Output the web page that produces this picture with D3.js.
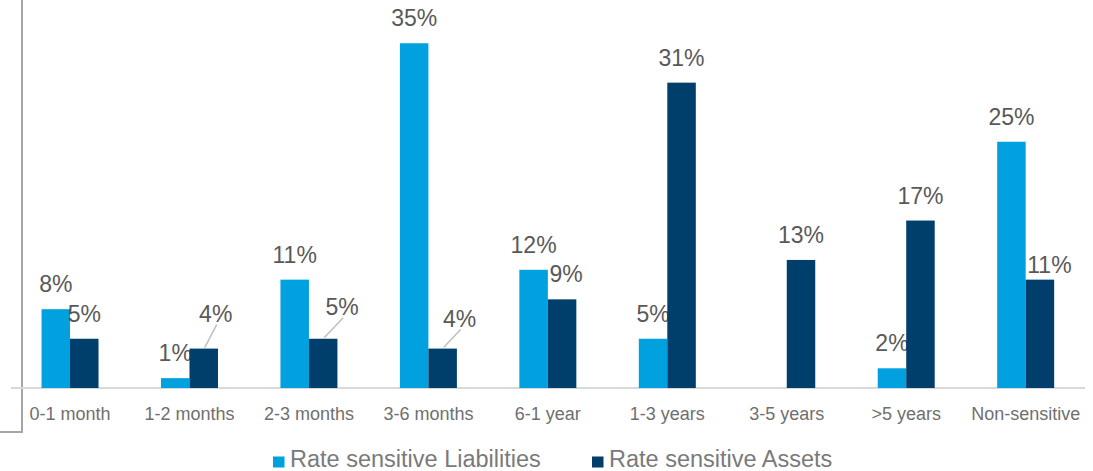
<!DOCTYPE html>
<html>
<head>
<meta charset="utf-8">
<script src="https://cdn.jsdelivr.net/npm/d3@7"></script>
<style>
  html, body { margin: 0; padding: 0; background: #fff; }
  svg { display: block; font-family: "Liberation Sans", Arial, sans-serif; }
</style>
</head>
<body>
<svg id="chart" width="1093" height="471"></svg>
<script>
const categories = ["0-1 month", "1-2 months", "2-3 months", "3-6 months", "6-1 year", "1-3 years", "3-5 years", ">5 years", "Non-sensitive"];
const seriesNames = ["Rate sensitive Liabilities", "Rate sensitive Assets"];
const liabilities = [8, 1, 11, 35, 12, 5, 0, 2, 25];
const assets = [5, 4, 5, 4, 9, 31, 13, 17, 11];
const yDomain = [0, 40];

const colors = ["#00A1DE", "#003E6B"];

// label nudges (pixels) for labels moved off their default spot; leader=true draws a connector
const nudges = {
  "1|1": { dx: 12, dy: -10, leader: true },
  "1|2": { dx: 19, dy: -7, leader: true },
  "1|3": { dx: 17, dy: -5, leader: true },
  "1|4": { dx: 4, dy: 0 },
  "1|8": { dx: 9.5, dy: 10 }
};

const svg = d3.select("#chart");
const baseY = 388;

const x0 = d3.scaleBand().domain(categories).range([10.3, 1085.4])
  .paddingInner(0.523).paddingOuter(0.2615);
const x1 = d3.scaleBand().domain(seriesNames).range([0, x0.bandwidth()]);
const y = d3.scaleLinear().domain(yDomain).range([baseY, -6]);

// frame line at left
svg.append("path")
  .attr("d", d3.line()([[22, 0], [22, 432], [0, 432]]))
  .attr("fill", "none").attr("stroke", "#A6A6A6").attr("stroke-width", 2);

// baseline
svg.append("line")
  .attr("x1", 11).attr("x2", 1085).attr("y1", baseY).attr("y2", baseY)
  .attr("stroke", "#D9D9D9").attr("stroke-width", 2);

const rows = categories.map((c, i) => ({ cat: c, i, vals: [liabilities[i], assets[i]] }));

const g = svg.append("g");
rows.forEach(r => {
  r.vals.forEach((v, s) => {
    if (!v) return;
    const bx = x0(r.cat) + x1(seriesNames[s]);
    const bw = x1.bandwidth();
    const top = y(v);
    g.append("rect")
      .attr("x", bx).attr("y", top)
      .attr("width", bw).attr("height", baseY - top)
      .attr("fill", colors[s]);
    const n = nudges[s + "|" + r.i] || { dx: 0, dy: 0 };
    const cx = bx + bw / 2;
    const lx = cx + n.dx, ly = top - 17 + n.dy;
    if (n.leader) {
      g.append("line")
        .attr("x1", cx + 1).attr("y1", top - 1)
        .attr("x2", lx + 1).attr("y2", ly + 3)
        .attr("stroke", "#BFBFBF").attr("stroke-width", 1.5);
    }
    g.append("text")
      .attr("x", lx).attr("y", ly)
      .attr("text-anchor", "middle")
      .attr("font-size", 23)
      .attr("fill", "#595959")
      .text(v + "%");
  });
});

// category axis labels
const xAxis = d3.axisBottom(x0).tickSize(0).tickPadding(0);
const ax = svg.append("g").attr("transform", `translate(0,${baseY})`).call(xAxis);
ax.select(".domain").remove();
ax.selectAll("text")
  .attr("y", 32).attr("dy", null)
  .attr("font-size", 18)
  .attr("font-family", "Liberation Sans, Arial, sans-serif")
  .attr("fill", "#6F6F6F");

// legend
const legendX = [273, 592];
const leg = svg.append("g");
seriesNames.forEach((name, s) => {
  leg.append("rect")
    .attr("x", legendX[s]).attr("y", 456.5)
    .attr("width", 11.5).attr("height", 11)
    .attr("fill", colors[s]);
  leg.append("text")
    .attr("x", legendX[s] + 17).attr("y", 467)
    .attr("font-size", 23.5)
    .attr("fill", "#7A7A7A")
    .text(name);
});
</script>
</body>
</html>
